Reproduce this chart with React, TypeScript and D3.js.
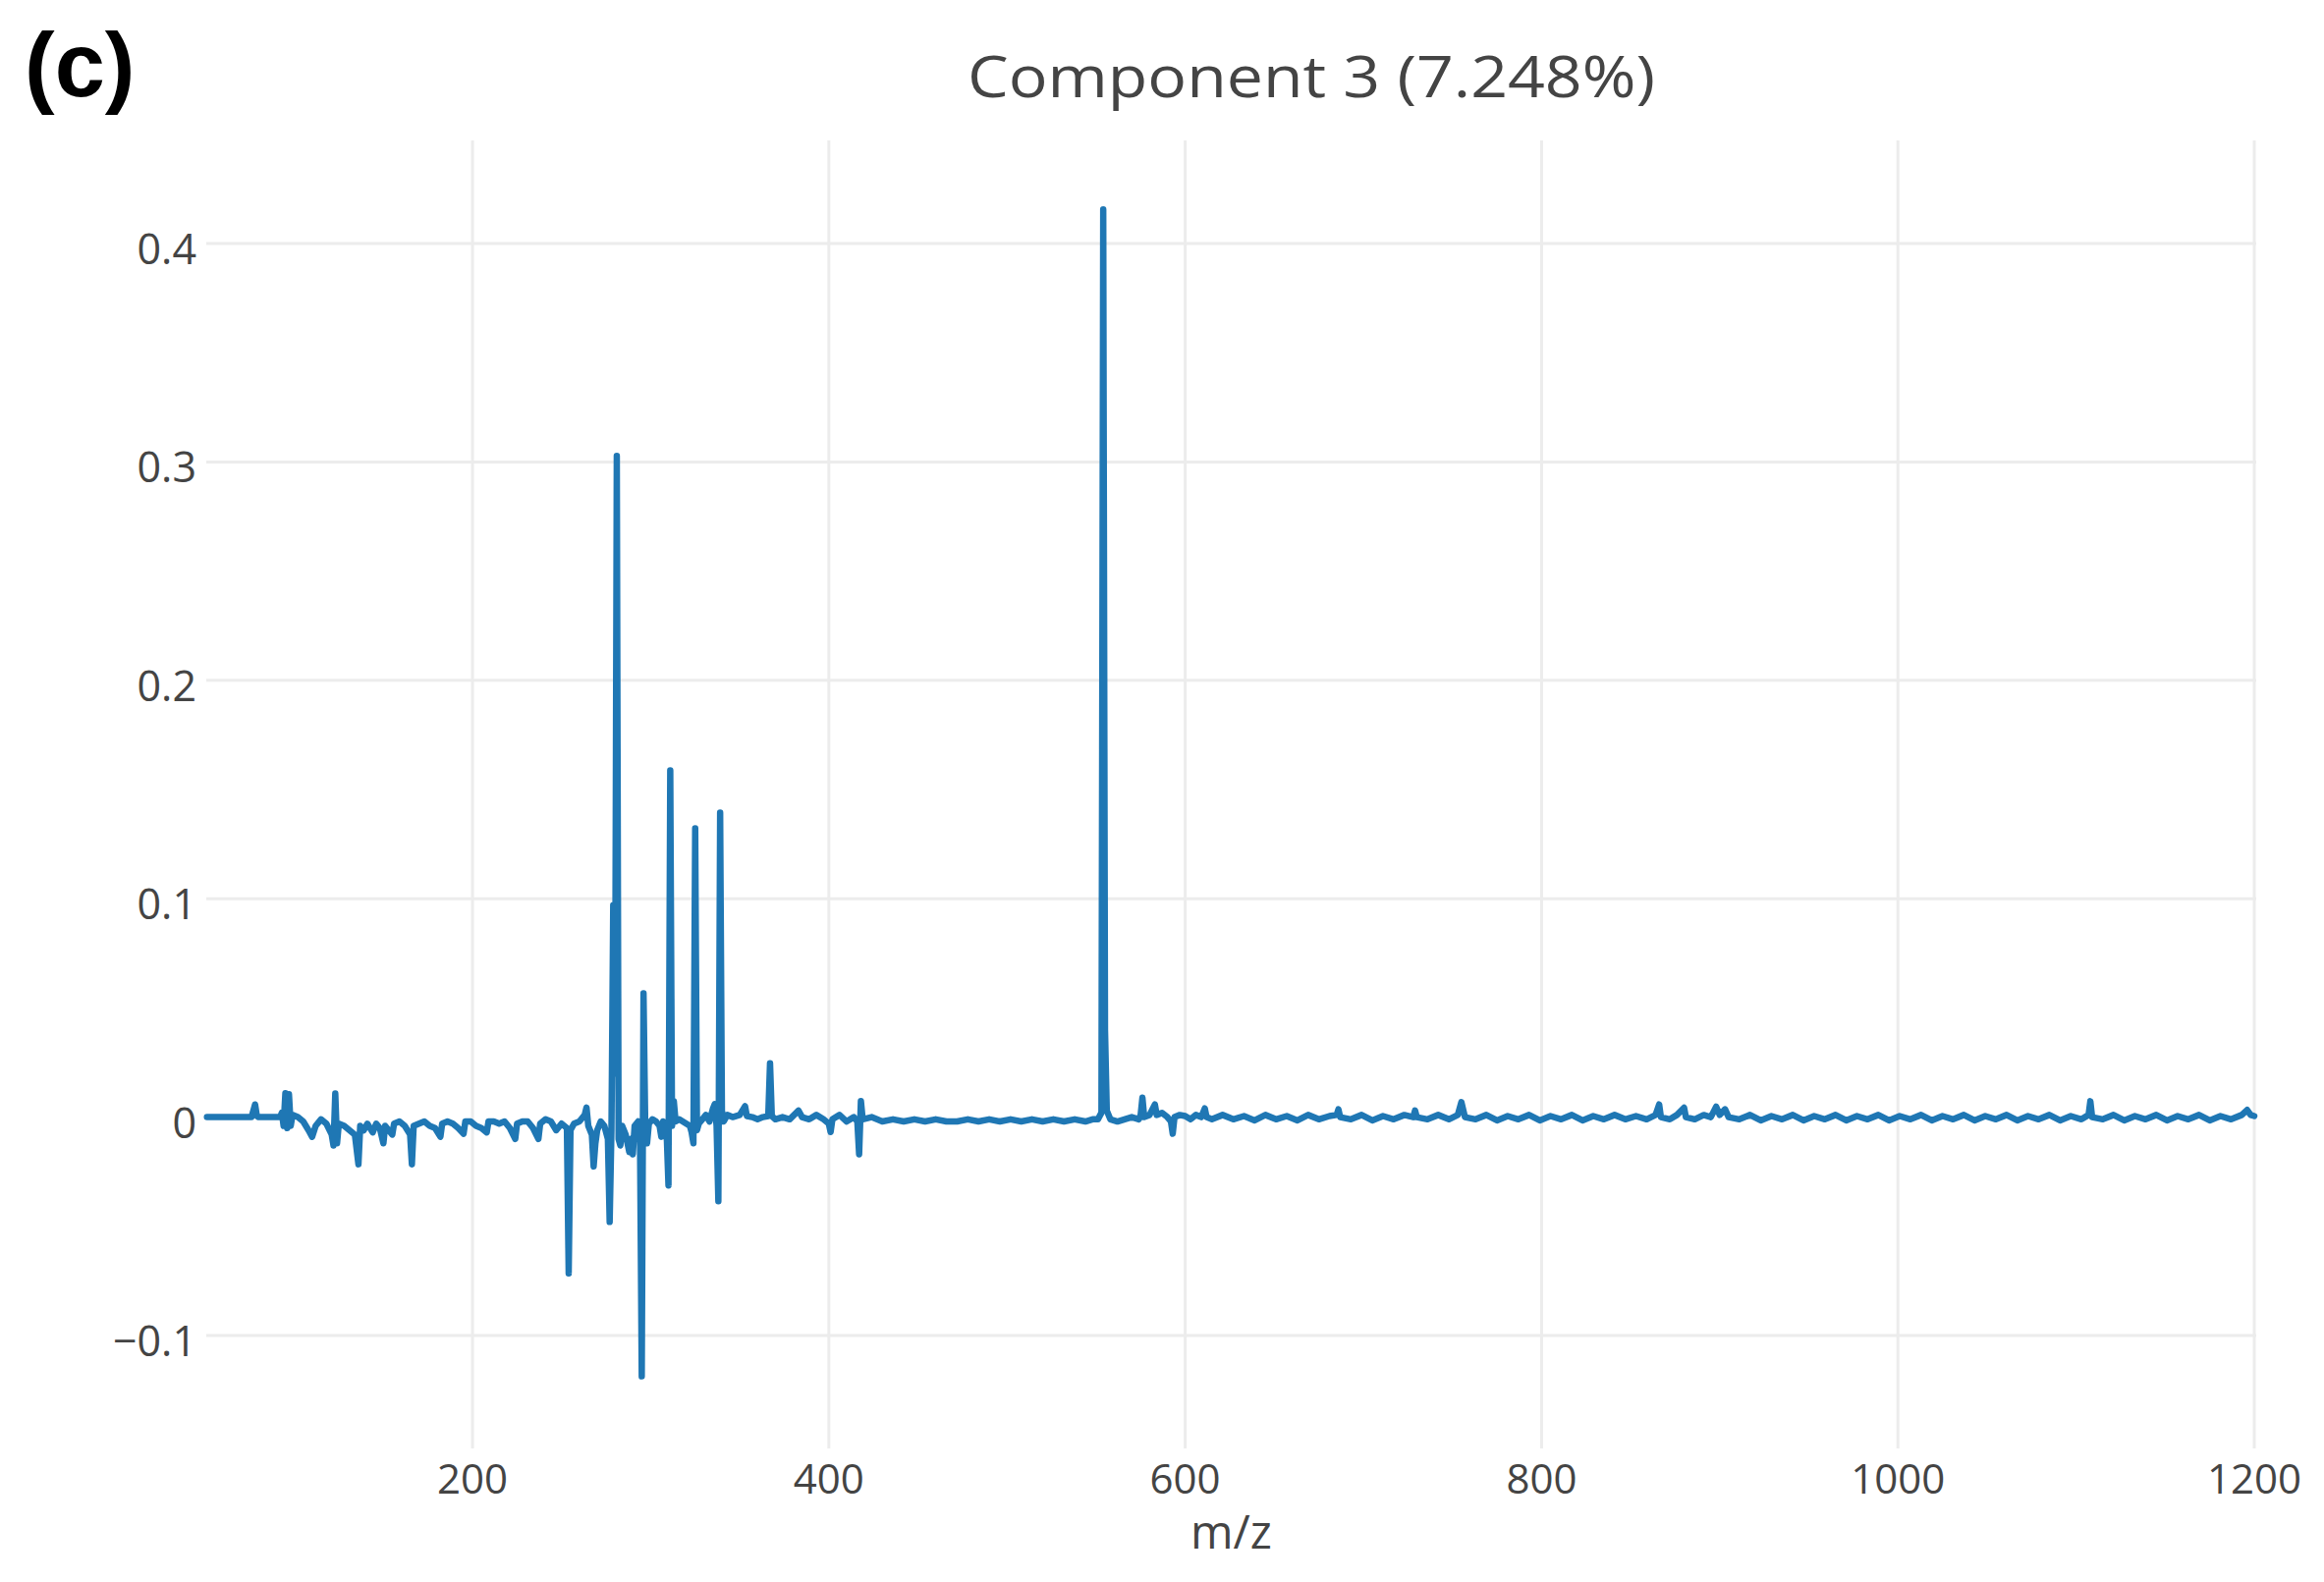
import React from "react";
import * as d3 from "d3";

// ---- data: PCA loading of component 3 vs m/z ----
const lowMassRegion: [number, number][] = [
  [51, 0], [60, 0], [70, 0], [76, 0], [78, 0.0058], [79, 0.0005], [80, 0], [88, 0], [92, 0],
  [93, 0.002], [94, -0.004], [95, 0.011], [96, -0.005], [97, 0.0105], [98, -0.004], [99, 0.001],
  [102, 0], [105, -0.002], [108, -0.006], [110, -0.009], [112, -0.004], [115, -0.001], [118, -0.003],
  [121, -0.008], [122, -0.013], [123, 0.0108], [124, -0.012], [125, -0.003], [128, -0.004],
  [131, -0.006], [134, -0.008], [136, -0.0216], [137, -0.004], [139, -0.006], [141, -0.003],
  [144, -0.007], [146, -0.003], [148, -0.005], [150, -0.012], [151, -0.004], [153, -0.006],
  [155, -0.008], [156, -0.003], [159, -0.002], [162, -0.004], [165, -0.008], [166, -0.0216],
  [167, -0.004], [170, -0.003], [173, -0.002], [176, -0.004], [179, -0.005], [182, -0.009],
  [183, -0.003], [186, -0.002], [189, -0.003], [192, -0.005], [195, -0.0076], [196, -0.002],
  [199, -0.002], [202, -0.004], [205, -0.005], [208, -0.007], [209, -0.002], [212, -0.002],
  [215, -0.003], [218, -0.002], [221, -0.005], [224, -0.01], [225, -0.003], [228, -0.002],
  [231, -0.002], [234, -0.005], [237, -0.01], [238, -0.003], [241, -0.001], [244, -0.002],
  [247, -0.006], [250, -0.003],
];

const peakRegion: [number, number][] = [
  [253, -0.005], [254, -0.0715], [255, -0.006], [257, -0.003], [260, -0.002], [263, 0.001],
  [264, 0.0044], [265, -0.004], [267, -0.008], [268, -0.0226], [269, -0.012], [270, -0.006],
  [272, -0.002], [274, -0.004], [276, -0.01], [277, -0.048], [278, -0.006], [279, 0.097],
  [280, 0.02], [281, 0.3028], [282, -0.01], [283, -0.013], [284, -0.004], [286, -0.008],
  [288, -0.016], [289, -0.01], [290, -0.017], [291, -0.004], [293, -0.002], [294, -0.006],
  [295, -0.1187], [296, 0.0567], [297, -0.006], [298, -0.012], [299, -0.003], [301, -0.001],
  [303, -0.002], [305, -0.004], [306, -0.009], [307, -0.002], [309, -0.008], [310, -0.0313],
  [311, 0.1588], [312, -0.004], [313, 0.0073], [314, -0.002], [316, -0.001], [318, -0.002],
  [320, -0.003], [322, -0.004], [323, -0.007], [324, -0.012], [325, 0.1322], [326, -0.006],
  [327, -0.003], [329, -0.001], [331, 0.001], [333, -0.002], [335, 0.004], [336, 0.006],
  [337, -0.004], [338, -0.0385], [339, 0.1394], [340, 0.003], [341, -0.002], [343, 0.001],
  [346, 0], [350, 0.001], [353, 0.005], [354, 0.0005], [357, 0], [360, -0.001], [363, 0],
  [366, 0.0005], [367, 0.0247], [368, 0.0005], [370, -0.001], [374, 0], [378, -0.001],
  [383, 0.003], [385, 0], [389, -0.001], [393, 0.001], [397, -0.001], [400, -0.003],
  [401, -0.0068], [402, -0.001], [406, 0.001], [410, -0.002], [414, 0], [416, -0.002],
  [417, -0.017], [418, 0.0074], [419, -0.001], [424, 0], [430, -0.002], [436, -0.001],
  [442, -0.002], [448, -0.001], [454, -0.002], [460, -0.001], [466, -0.002], [472, -0.002],
  [478, -0.001], [484, -0.002], [490, -0.001], [496, -0.002], [502, -0.001], [508, -0.002],
  [514, -0.001], [520, -0.002], [526, -0.001], [532, -0.002], [538, -0.001], [544, -0.002],
  [548, -0.001], [551, -0.001], [553, 0.002], [554, 0.4156], [555, 0.04], [556, 0.003],
  [558, -0.001], [562, -0.002], [566, -0.001], [570, 0], [574, -0.001], [575, 0.001],
  [576, 0.0089], [577, 0], [580, 0.001], [583, 0.0058], [584, 0.001], [587, 0.002], [590, 0],
  [592, -0.002], [593, -0.0076], [594, 0], [597, 0.001], [600, 0.0005], [603, -0.001],
  [606, 0.001], [609, 0], [611, 0.004], [612, 0], [615, -0.001],
];

const highMassRegion: [number, number][] = [
  [621, 0.001], [627, -0.001], [633, 0.0005], [639, -0.0015], [645, 0.001], [651, -0.001],
  [657, 0.0005], [663, -0.0015], [669, 0.001], [675, -0.001], [681, 0.0005], [685, 0.001],
  [686, 0.0036], [687, 0], [693, -0.001], [699, 0.001], [705, -0.0015], [711, 0.0005],
  [717, -0.001], [723, 0.001], [728, 0], [729, 0.003], [730, 0], [736, -0.001], [742, 0.001],
  [748, -0.001], [753, 0.001], [755, 0.0069], [757, 0], [763, -0.001], [769, 0.001],
  [775, -0.0015], [781, 0.0005], [787, -0.001], [793, 0.001], [799, -0.0015], [805, 0.0005],
  [811, -0.001], [817, 0.001], [823, -0.0015], [829, 0.0005], [835, -0.001], [841, 0.001],
  [847, -0.001], [853, 0.0005], [859, -0.001], [864, 0.001], [866, 0.0058], [867, 0],
  [872, -0.001], [876, 0.001], [880, 0.0043], [881, 0], [886, -0.001], [891, 0.001],
  [895, 0], [898, 0.0048], [900, 0.001], [903, 0.0036], [905, 0], [911, -0.001], [917, 0.001],
  [923, -0.0015], [929, 0.0005], [935, -0.001], [941, 0.001], [947, -0.0015], [953, 0.0005],
  [959, -0.001], [965, 0.001], [971, -0.0015], [977, 0.0005], [983, -0.001], [989, 0.001],
  [995, -0.0015], [1001, 0.0005], [1007, -0.001], [1013, 0.001], [1019, -0.0015],
  [1025, 0.0005], [1031, -0.001], [1037, 0.001], [1043, -0.0015], [1049, 0.0005],
  [1055, -0.001], [1061, 0.001], [1067, -0.0015], [1073, 0.0005], [1079, -0.001],
  [1085, 0.001], [1091, -0.0015], [1097, 0.0005], [1103, -0.001], [1107, 0.001],
  [1108, 0.0073], [1109, 0], [1115, -0.001], [1121, 0.001], [1127, -0.0015], [1133, 0.0005],
  [1139, -0.001], [1145, 0.001], [1151, -0.0015], [1157, 0.0005], [1163, -0.001],
  [1169, 0.001], [1175, -0.0015], [1181, 0.0005], [1187, -0.001], [1193, 0.001],
  [1196, 0.0033], [1198, 0.001], [1200, 0.0005],
];

const xTicks = [200, 400, 600, 800, 1000, 1200];
const yTicks = [-0.1, 0, 0.1, 0.2, 0.3, 0.4];
const xDomain: [number, number] = [50.6, 1201.1];
const yDomain: [number, number] = [-0.1517, 0.4472];
const titleText = "Component 3 (7.248%)";
const panelLabel = "(c)";
const xAxisTitle = "m/z";

const W = 2366;
const H = 1611;
const plot = { left: 210, right: 2297, top: 143, bottom: 1475 };
const FONT = "'Open Sans', verdana, arial, sans-serif";

export default function App() {
  const data = [...lowMassRegion, ...peakRegion, ...highMassRegion];
  const x = d3.scaleLinear().domain(xDomain).range([plot.left, plot.right]);
  const y = d3.scaleLinear().domain(yDomain).range([plot.bottom, plot.top]);
  const line = d3
    .line<[number, number]>()
    .x((d) => x(d[0]))
    .y((d) => y(d[1]));

  const yFmt = (v: number) => (v < 0 ? "\u2212" + d3.format("")(Math.abs(v)) : d3.format("")(v));

  return (
    <svg
      width={W}
      height={H}
      style={{ position: "absolute", left: 0, top: 0, display: "block", background: "#fff" }}
    >
      <rect x={0} y={0} width={W} height={H} fill="#fff" />
      {/* grid */}
      <g stroke="#ececec" strokeWidth={3}>
        {xTicks.map((t) => (
          <line key={"gx" + t} x1={x(t)} x2={x(t)} y1={plot.top} y2={plot.bottom} />
        ))}
        {yTicks
          .filter((t) => t !== 0)
          .map((t) => (
            <line key={"gy" + t} x1={plot.left} x2={plot.right} y1={y(t)} y2={y(t)} />
          ))}
      </g>
      {/* data */}
      <path
        d={line(data) || ""}
        fill="none"
        stroke="#1f77b4"
        strokeWidth={6.5}
        strokeLinejoin="round"
        strokeLinecap="round"
      />
      {/* y tick labels */}
      <g fontFamily={FONT} fontSize={43} fill="#444" textAnchor="end">
        {yTicks.map((t) => (
          <text key={"ty" + t} x={200} y={y(t) + 21}>
            {yFmt(t)}
          </text>
        ))}
      </g>
      {/* x tick labels */}
      <g fontFamily={FONT} fontSize={42} fill="#444" textAnchor="middle">
        {xTicks.map((t) => (
          <text key={"tx" + t} x={x(t)} y={1521}>
            {t}
          </text>
        ))}
      </g>
      <text
        x={(plot.left + plot.right) / 2}
        y={1577}
        fontFamily={FONT}
        fontSize={47}
        fill="#444"
        textAnchor="middle"
      >
        {xAxisTitle}
      </text>
      <text
        x={1335}
        y={99}
        fontFamily={FONT}
        fontSize={58}
        fill="#444"
        textAnchor="middle"
        textLength={700}
        lengthAdjust="spacingAndGlyphs"
      >
        {titleText}
      </text>
      <text
        x={25}
        y={98}
        fontFamily="'Liberation Sans', Arial, sans-serif"
        fontWeight="bold"
        fontSize={92}
        fill="#000"
      >
        {panelLabel}
      </text>
    </svg>
  );
}
